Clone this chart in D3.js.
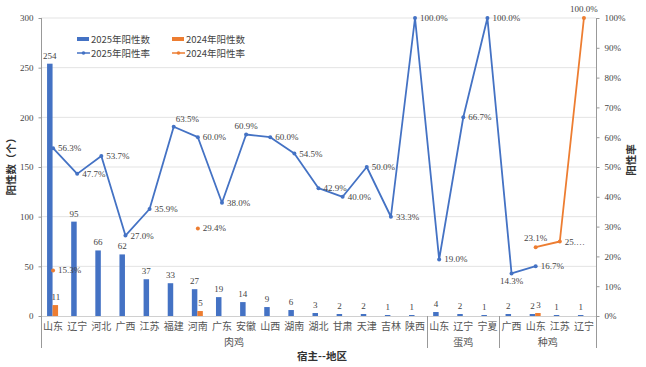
<!DOCTYPE html>
<html><head><meta charset="utf-8">
<script src="https://cdn.jsdelivr.net/npm/d3@7"></script>
<style>body{margin:0;background:#fff}svg{display:block}</style>
</head><body><svg id="c" width="646" height="367"></svg>
<script>
const regions = ["山东","辽宁","河北","广西","江苏","福建","河南","广东","安徽","山西","湖南","湖北","甘肃","天津","吉林","陕西","山东","辽宁","宁夏","广西","山东","江苏","辽宁"];
const hosts = ["肉鸡","肉鸡","肉鸡","肉鸡","肉鸡","肉鸡","肉鸡","肉鸡","肉鸡","肉鸡","肉鸡","肉鸡","肉鸡","肉鸡","肉鸡","肉鸡","蛋鸡","蛋鸡","蛋鸡","种鸡","种鸡","种鸡","种鸡"];
const count2025 = [254,95,66,62,37,33,27,19,14,9,6,3,2,2,1,1,4,2,1,2,2,1,1];
const count2024 = [11,null,null,null,null,null,5,null,null,null,null,null,null,null,null,null,null,null,null,null,3,null,null];
const rate2025 = [56.3,47.7,53.7,27.0,35.9,63.5,60.0,38.0,60.9,60.0,54.5,42.9,40.0,50.0,33.3,100.0,19.0,66.7,100.0,14.3,16.7,null,null];
const rate2024 = [15.3,null,null,null,null,null,29.4,null,null,null,null,null,null,null,null,null,null,null,null,null,23.1,25.0,100.0];
const leftTicks = [0,50,100,150,200,250,300];
const rightTicks = [0,10,20,30,40,50,60,70,80,90,100];

const svg = d3.select("#c");
const L=41,R=596,T=18,B=316;
const idx = d3.range(regions.length);
const x = d3.scaleBand().domain(idx).range([L,R]).padding(0);
const yL = d3.scaleLinear().domain([0,300]).range([B,T]);
const yR = d3.scaleLinear().domain([0,100]).range([B,T]);
const blue="#4472C4", orange="#ED7D31";
const serif="'Liberation Serif','Times New Roman',serif";
const cjk="'Noto Sans CJK SC',sans-serif";

// grid
svg.append("g").selectAll("line").data(leftTicks.filter(d=>d>0)).join("line")
 .attr("x1",L).attr("x2",R).attr("y1",d=>yL(d)).attr("y2",d=>yL(d))
 .attr("stroke","#e3e3e3").attr("stroke-width",1);
svg.append("line").attr("x1",L).attr("x2",R).attr("y1",B+0.5).attr("y2",B+0.5).attr("stroke","#d0d0d0");

// left axis
const gl = svg.append("g").attr("transform",`translate(${L+0.5},0)`)
 .call(d3.axisLeft(yL).tickValues(leftTicks).tickSize(3).tickFormat(d3.format("d")));
gl.select(".domain").remove();
gl.selectAll("line").attr("stroke","#999");
gl.selectAll("text").attr("font-family",serif).attr("font-size",9).attr("fill","#444").attr("x",-8);
svg.append("line").attr("x1",L+0.5).attr("x2",L+0.5).attr("y1",T).attr("y2",348).attr("stroke","#999");

// right axis
const gr = svg.append("g").attr("transform",`translate(${R+0.5},0)`)
 .call(d3.axisRight(yR).tickValues(rightTicks).tickSize(3).tickFormat(d=>d+"%"));
gr.select(".domain").remove();
gr.selectAll("line").attr("stroke","#999");
gr.selectAll("text").attr("font-family",serif).attr("font-size",9).attr("fill","#444").attr("x",8);
svg.append("line").attr("x1",R+0.5).attr("x2",R+0.5).attr("y1",T).attr("y2",348).attr("stroke","#999");

// group separators
const groups=[];
hosts.forEach((h,i)=>{ if(!groups.length||groups[groups.length-1].name!==h) groups.push({name:h,start:i,end:i}); else groups[groups.length-1].end=i; });
groups.slice(1).forEach(g=>{ const xx=Math.round(x(g.start))+0.5;
 svg.append("line").attr("x1",xx).attr("x2",xx).attr("y1",B).attr("y2",348).attr("stroke","#999"); });

// category labels
svg.append("g").selectAll("text").data(idx).join("text")
 .attr("x",i=>x(i)+x.bandwidth()/2).attr("y",330).attr("text-anchor","middle")
 .attr("font-family",cjk).attr("font-size",10).attr("fill","#555").text(i=>regions[i]);
svg.append("g").selectAll("text").data(groups).join("text")
 .attr("x",g=>(x(g.start)+x(g.end)+x.bandwidth())/2).attr("y",346).attr("text-anchor","middle")
 .attr("font-family",cjk).attr("font-size",10).attr("fill","#555").text(g=>g.name);

// bars
const bw=5.5;
svg.append("g").selectAll("rect").data(idx).join("rect")
 .attr("x",i=>x(i)+x.bandwidth()/2-bw-0.5).attr("width",bw)
 .attr("y",i=>yL(count2025[i])).attr("height",i=>B-yL(count2025[i])).attr("fill",blue);
const i24=idx.filter(i=>count2024[i]!=null);
svg.append("g").selectAll("rect").data(i24).join("rect")
 .attr("x",i=>x(i)+x.bandwidth()/2-0.5).attr("width",bw)
 .attr("y",i=>yL(count2024[i])).attr("height",i=>B-yL(count2024[i])).attr("fill",orange);
svg.append("g").selectAll("text").data(idx).join("text")
 .attr("x",i=>x(i)+x.bandwidth()/2-bw/2-0.5).attr("y",i=>yL(count2025[i])-5)
 .attr("text-anchor","middle").attr("font-family",serif).attr("font-size",9).attr("fill","#444").text(i=>count2025[i]);
svg.append("g").selectAll("text").data(i24).join("text")
 .attr("x",i=>x(i)+x.bandwidth()/2+bw/2).attr("y",i=>yL(count2024[i])-5)
 .attr("text-anchor","middle").attr("font-family",serif).attr("font-size",9).attr("fill","#444").text(i=>count2024[i]);

// lines
const cx=i=>x(i)+x.bandwidth()/2;
function drawRate(data,color,pos,texts){
 const line=d3.line().defined(i=>data[i]!=null).x(cx).y(i=>yR(data[i]));
 svg.append("path").datum(idx).attr("d",line).attr("fill","none").attr("stroke",color).attr("stroke-width",1.8).attr("stroke-linejoin","round");
 const pts=idx.filter(i=>data[i]!=null);
 svg.append("g").selectAll("circle").data(pts).join("circle")
  .attr("cx",cx).attr("cy",i=>yR(data[i])).attr("r",2).attr("fill",color);
 svg.append("g").selectAll("text").data(pts).join("text")
  .attr("x",i=>{const p=pos[i]||"r"; return p==="r"?cx(i)+5:p==="ar"?cx(i)+2:cx(i);})
  .attr("y",i=>{const p=pos[i]||"r"; const y=yR(data[i]); return p==="a"?y-6:p==="ar"?y-5:p==="b"?y+11:y+3;})
  .attr("text-anchor",i=>{const p=pos[i]||"r"; return (p==="a"||p==="b")?"middle":"start";})
  .attr("font-family",serif).attr("font-size",9).attr("fill","#444")
  .text(i=>texts&&texts[i]?texts[i]:data[i].toFixed(1)+"%");
}
drawRate(rate2025,blue,{5:"ar",8:"a",19:"b"});
drawRate(rate2024,orange,{20:"a",22:"a"},{21:"25.…"});

// legend
const lg=svg.append("g").attr("font-family",cjk).attr("font-size",9.5).attr("fill","#444");
[[77,39,blue,"rect","2025年阳性数"],[172,39,orange,"rect","2024年阳性数"],[77,53,blue,"line","2025年阳性率"],[172,53,orange,"line","2024年阳性率"]].forEach(([lx,ly,c,t,s])=>{
 if(t==="rect") lg.append("rect").attr("x",lx).attr("y",ly-2).attr("width",12).attr("height",4).attr("fill",c);
 else { lg.append("line").attr("x1",lx).attr("x2",lx+13).attr("y1",ly).attr("y2",ly).attr("stroke",c).attr("stroke-width",1.5);
        lg.append("circle").attr("cx",lx+6.5).attr("cy",ly).attr("r",1.8).attr("fill",c); }
 lg.append("text").attr("x",lx+14).attr("y",ly+3.5).text(s);
});

// titles
svg.append("text").attr("transform","translate(15,164) rotate(-90)").attr("text-anchor","middle")
 .attr("font-family",cjk).attr("font-size",10.5).attr("font-weight","bold").attr("fill","#333").text("阳性数（个）");
svg.append("text").attr("transform","translate(635,160) rotate(-90)").attr("text-anchor","middle")
 .attr("font-family",cjk).attr("font-size",10.5).attr("font-weight","bold").attr("fill","#333").text("阳性率");
svg.append("text").attr("x",322).attr("y",360).attr("text-anchor","middle")
 .attr("font-family",cjk).attr("font-size",10.5).attr("font-weight","bold").attr("fill","#333").text("宿主--地区");
</script></body></html>
